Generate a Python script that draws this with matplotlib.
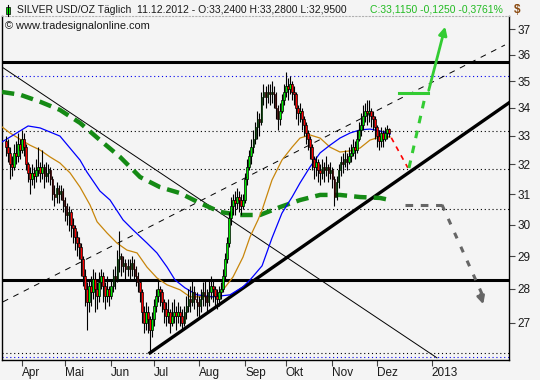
import numpy as np
import pandas as pd
import matplotlib
matplotlib.use("Agg")
import matplotlib.pyplot as plt
from matplotlib.patches import Rectangle
from matplotlib.lines import Line2D

plt.rcParams['font.family'] = ['Liberation Sans', 'DejaVu Sans']

# daily candles 21.03.2012 .. 11.12.2012
first_open = 32.8
closes = [32.6, 32.4, 32.0, 31.9, 32.4, 32.3, 32.7, 32.5, 32.9, 32.6,
          32.0, 31.7, 31.5, 31.7, 31.6, 31.8, 31.9, 31.7, 31.9, 31.6,
          31.7, 31.8, 31.5, 31.0, 30.9, 31.2, 31.0, 31.1, 30.8, 30.6,
          30.3, 30.4, 30.0, 29.9, 29.6, 29.4, 29.3, 28.9, 28.4, 28.0,
          27.6, 28.1, 27.9, 28.3, 28.0, 27.8, 28.2, 28.4, 28.1, 27.8,
          28.0, 27.8, 28.1, 28.4, 28.3, 28.9, 29.0, 28.7, 28.8, 28.6,
          28.7, 28.6, 28.8, 28.6, 28.4, 28.2, 27.9, 27.3, 27.0, 27.3,
          27.1, 26.8, 27.1, 27.5, 27.8, 28.0, 27.9, 27.6, 27.4, 27.2,
          27.3, 27.0, 27.2, 27.3, 27.2, 27.3, 27.2, 27.0, 27.3, 27.5,
          27.7, 27.6, 27.9, 27.7, 27.6, 27.5, 27.7, 27.9, 27.8, 27.6,
          27.9, 28.1, 28.0, 27.8, 27.7, 27.9, 28.0, 28.4, 28.9, 29.4,
          30.2, 30.6, 30.8, 30.7, 30.9, 30.8, 30.6, 30.8, 31.5, 31.9,
          32.3, 32.6, 32.9, 33.3, 33.6, 33.5, 34.4, 34.6, 34.4, 34.6,
          34.5, 34.6, 34.5, 34.0, 33.6, 33.9, 34.3, 34.6, 34.8, 34.7,
          34.9, 34.6, 34.5, 34.0, 33.8, 33.9, 33.6, 33.4, 33.1, 32.9,
          32.6, 32.2, 31.9, 32.1, 31.8, 31.7, 31.9, 31.8, 31.9, 31.7,
          31.8, 31.5, 30.9, 31.4, 31.8, 32.1, 32.0, 32.2, 32.1, 32.3,
          32.4, 32.6, 32.5, 32.9, 33.2, 33.4, 33.7, 33.9, 33.8, 33.9,
          33.7, 33.6, 33.3, 33.0, 32.8, 33.1, 32.9, 33.1, 33.24, 33.115]
highs = [33.0, 32.9, 32.6, 32.3, 32.7, 32.8, 33.1, 32.9, 33.2, 33.1,
         32.7, 32.1, 31.9, 32.0, 31.9, 32.2, 32.6, 32.1, 32.5, 32.0,
         32.1, 32.0, 31.9, 31.6, 31.3, 31.4, 31.3, 31.3, 31.2, 30.9,
         30.7, 30.6, 30.5, 30.2, 30.0, 29.8, 29.6, 29.4, 29.0, 28.6,
         28.2, 28.3, 28.4, 28.6, 28.5, 28.2, 28.5, 28.6, 28.5, 28.2,
         28.4, 28.1, 28.3, 28.6, 28.7, 29.2, 29.8, 29.1, 29.0, 28.9,
         28.9, 28.9, 29.0, 28.9, 28.7, 28.5, 28.3, 28.0, 27.5, 27.6,
         27.5, 27.2, 27.3, 27.7, 28.0, 28.3, 28.1, 28.0, 27.7, 27.6,
         27.7, 27.4, 27.6, 27.7, 27.5, 27.6, 27.5, 27.4, 27.5, 27.8,
         28.0, 28.1, 28.3, 28.1, 27.9, 27.8, 28.0, 28.2, 28.3, 28.0,
         28.3, 28.4, 28.3, 28.1, 28.0, 28.1, 28.2, 28.6, 29.1, 29.6,
         30.4, 30.9, 31.0, 31.1, 31.2, 31.1, 31.0, 31.0, 31.7, 32.2,
         32.5, 32.9, 33.2, 33.5, 33.9, 33.8, 34.6, 34.9, 34.8, 34.9,
         34.9, 35.0, 34.8, 34.6, 34.1, 34.2, 34.5, 34.9, 35.35, 35.1,
         35.2, 35.0, 34.8, 34.6, 34.1, 34.2, 34.0, 33.7, 33.5, 33.2,
         33.0, 32.7, 32.3, 32.3, 32.2, 32.0, 32.2, 32.1, 32.3, 32.0,
         32.1, 31.9, 31.6, 31.6, 32.0, 32.3, 32.4, 32.5, 32.4, 32.6,
         32.7, 32.9, 32.8, 33.2, 33.5, 33.8, 34.1, 34.2, 34.3, 34.3,
         34.0, 33.9, 33.7, 33.4, 33.2, 33.3, 33.2, 33.3, 33.4, 33.28]
lows = [32.3, 32.1, 31.5, 31.6, 31.8, 32.0, 32.1, 32.2, 32.4, 32.3,
        31.8, 31.4, 31.0, 31.3, 31.2, 31.4, 31.6, 31.4, 31.5, 31.2,
        31.4, 31.4, 31.3, 30.8, 30.6, 30.7, 30.7, 30.8, 30.4, 30.1,
        30.0, 29.8, 29.6, 29.4, 29.2, 29.0, 28.9, 28.4, 28.1, 27.5,
        26.8, 27.3, 27.5, 27.7, 27.3, 27.4, 27.6, 28.0, 27.6, 27.4,
        27.6, 27.5, 27.7, 27.9, 28.0, 28.2, 28.5, 28.4, 28.5, 28.3,
        28.4, 28.3, 28.4, 28.3, 28.1, 27.9, 27.6, 27.0, 26.7, 26.8,
        26.7, 26.2, 26.6, 26.9, 27.3, 27.6, 27.5, 27.3, 27.0, 26.9,
        27.0, 26.7, 26.9, 27.0, 26.8, 27.0, 26.9, 26.8, 26.9, 27.1,
        27.3, 27.3, 27.5, 27.4, 27.2, 27.1, 27.3, 27.5, 27.5, 27.3,
        27.5, 27.7, 27.6, 27.5, 27.4, 27.5, 27.7, 27.9, 28.3, 28.8,
        29.3, 30.0, 30.3, 30.3, 30.5, 30.4, 30.3, 30.5, 30.7, 31.3,
        31.8, 32.0, 32.4, 32.7, 32.9, 33.0, 33.4, 34.1, 34.0, 34.2,
        34.1, 34.2, 34.0, 33.6, 33.2, 33.4, 33.8, 34.1, 34.4, 34.3,
        34.5, 34.3, 34.1, 33.6, 33.4, 33.5, 33.2, 33.0, 32.7, 32.5,
        32.2, 31.8, 31.5, 31.6, 31.4, 31.3, 31.5, 31.4, 31.6, 31.4,
        31.5, 31.2, 30.6, 30.8, 31.2, 31.6, 31.7, 31.9, 31.8, 32.0,
        32.1, 32.3, 32.2, 32.4, 32.8, 33.0, 33.2, 33.5, 33.4, 33.5,
        33.3, 33.2, 32.9, 32.6, 32.5, 32.6, 32.6, 32.8, 32.9, 32.95]

# moving averages (day number, price)
ma_blue_day = [-1.9, 11.0, 16.9, 26.7, 36.6, 40.0, 46.4, 51.4, 57.8, 62.7, 69.6, 74.5, 79.5,
               83.4, 88.3, 94.2, 102.1, 110.5, 116.9, 120.4, 126.3, 131.2, 136.1, 141.1,
               145.0, 149.9, 154.9, 159.8, 164.7, 169.7, 174.6, 179.5, 184.4, 189.4]
ma_blue = [32.78, 33.35, 33.28, 32.99, 32.15, 31.74, 31.10, 30.80, 30.15, 29.83, 29.41, 29.10,
           28.66, 28.27, 28.03, 27.82, 27.76, 27.82, 28.06, 28.27, 28.70, 29.57, 30.37, 30.90,
           31.37, 31.91, 32.40, 32.67, 32.92, 33.10, 33.21, 33.24, 33.17, 33.06]
ma_orange_day = [-1.9, 2.1, 7.0, 11.9, 16.9, 21.8, 26.7, 31.7, 36.6, 41.5, 45.0, 49.9, 54.8,
                 59.7, 64.7, 69.6, 74.5, 79.5, 85.9, 90.8, 102.1, 107.1, 112.0, 116.9, 120.4,
                 124.3, 126.3, 131.2, 136.1, 141.1, 145.0, 149.9, 154.9, 159.8, 164.7, 169.7,
                 174.6, 179.5, 184.4, 189.4]
ma_orange = [33.32, 33.10, 32.88, 32.67, 32.50, 32.26, 32.05, 31.71, 31.23, 30.64, 30.09,
             29.73, 29.41, 29.19, 29.10, 28.66, 28.33, 28.12, 27.97, 27.76, 27.76, 27.97,
             28.36, 28.97, 29.61, 30.15, 30.47, 31.47, 32.15, 32.60, 32.92, 33.03, 32.92,
             32.60, 32.43, 32.47, 32.57, 32.85, 32.96, 32.96]
ma200_day = [-1.9, 7.0, 16.9, 26.7, 36.6, 46.4, 56.3, 66.2, 76.0, 85.9, 95.7, 105.6, 115.4,
             125.3, 135.2, 145.0, 154.9, 164.7, 174.6, 184.4, 189.4]
ma200 = [34.59, 34.49, 34.23, 33.93, 33.46, 32.85, 32.26, 31.57, 31.23, 31.03, 30.70, 30.41,
         30.31, 30.31, 30.57, 30.80, 30.97, 30.97, 30.90, 30.87, 30.80]

# drawn levels and trend lines
hlines_thick = [35.73, 28.27]
dotted_black = [33.17, 31.84, 30.50, 26.13]
dotted_blue = [35.20, 26.02]
down_line = ([-1.9, 212.5], [35.53, 26.0])
channel_line = ([-1.4, 246.0], [27.61, 36.38])
support_line = ([71.1, 248.0], [26.14, 34.19])
# scenarios
red_path = ([190.0, 198.2], [32.93, 31.88])
green_path = ([198.7, 206.6], [31.88, 34.41])
green_flat = ([193.8, 208.1], [34.55, 34.55])
green_up = ([208.1, 216.9], [34.55, 37.21])
gray_flat = ([196.8, 215.0], [30.64, 30.64])
gray_down = ([215.0, 235.7], [30.64, 27.46])

yticks = [27, 28, 29, 30, 31, 32, 33, 34, 35, 36, 37]
month_names = {4: 'Apr', 5: 'Mai', 6: 'Jun', 7: 'Jul', 8: 'Aug', 9: 'Sep',
               10: 'Okt', 11: 'Nov', 12: 'Dez'}

dates = pd.bdate_range('2012-03-21', periods=len(closes))
opens = [first_open] + closes[:-1]
idx = np.arange(len(closes))

bg = '#f4f4f4'
fig = plt.figure(figsize=(5.4, 3.8), dpi=100, facecolor=bg)
ax = fig.add_axes([2/540, 20/380, 507/540, 344/380], facecolor=bg)
ax.set_yscale('log')

for lv in dotted_black:
    ax.axhline(lv, color='black', ls=(0, (1, 2.5)), lw=0.8, zorder=1)
for lv in dotted_blue:
    ax.axhline(lv, color='#0000ee', ls=(0, (1, 2.5)), lw=0.8, zorder=1)
for lv in hlines_thick:
    ax.axhline(lv, color='black', lw=2.2, zorder=2)

ax.plot(*down_line, color='black', lw=0.7, zorder=2)
ax.plot(*channel_line, color='black', lw=0.7, ls=(0, (6, 6)), zorder=2)
ax.plot(*support_line, color='black', lw=2.4, zorder=2)

ax.plot(ma200_day, ma200, color='#158a15', lw=3.2, ls=(0, (2.8, 1.6)), zorder=3)
ax.plot(ma_orange_day, ma_orange, color='#c8860b', lw=0.9, zorder=3)
ax.plot(ma_blue_day, ma_blue, color='#0000ff', lw=0.9, zorder=3)

# candles
ax.vlines(idx, lows, highs, color='black', lw=0.8, zorder=4)
for j, (o, c) in enumerate(zip(opens, closes)):
    col = '#00ee00' if c >= o else '#ff0000'
    ax.bar(j, abs(c - o) if abs(c - o) > 0.02 else 0.02, bottom=min(o, c), width=0.8,
           color=col, edgecolor='black', lw=0.5, zorder=5)

# scenario arrows
ax.plot(*red_path, color='#ff0000', lw=1.2, ls=(0, (3, 3)), zorder=6)
ax.plot(*green_path, color='#33cc33', lw=2.2, ls=(0, (2.5, 2.5)), zorder=6)
ax.plot(*green_flat, color='#33cc33', lw=2.2, zorder=6)
ax.annotate('', xy=(green_up[0][1], green_up[1][1]), xytext=(green_up[0][0], green_up[1][0]),
            arrowprops=dict(arrowstyle='-|>', color='#33cc33', lw=2.0, mutation_scale=12),
            zorder=6)
ax.plot(*gray_flat, color='#666666', lw=2.2, ls=(0, (2.5, 2.5)), zorder=6)
ax.plot(gray_down[0][:2], [gray_down[1][0], gray_down[1][1] + 0.25], color='#666666', lw=2.2,
        ls=(0, (2, 3)), zorder=6)
ax.annotate('', xy=(gray_down[0][1], gray_down[1][1]), xytext=(gray_down[0][1] - 2.2, gray_down[1][1] + 0.45),
            arrowprops=dict(arrowstyle='-|>', color='#666666', lw=2.0, mutation_scale=11),
            zorder=6)

ax.set_xlim(-1.86, 248.0)
ax.set_ylim(25.94, 37.53)

# axis ticks
ax.yaxis.tick_right()
ax.set_yticks(yticks)
ax.set_yticklabels([str(t) for t in yticks])
ax.yaxis.set_minor_locator(matplotlib.ticker.NullLocator())
ax.tick_params(axis='y', direction='out', length=4, width=0.8, color='#444444',
               labelsize=8.5, labelcolor='#1a1a1a', pad=2)

tick_pos, tick_lab = [], []
for j, d in enumerate(dates):
    if j > 0 and d.month != dates[j - 1].month:
        tick_pos.append(j)
        tick_lab.append(month_names[d.month])
tick_pos.append(210)
tick_lab.append('2013')
ax.set_xticks(tick_pos)
ax.set_xticklabels(tick_lab)
ax.xaxis.set_minor_locator(matplotlib.ticker.NullLocator())
ax.tick_params(axis='x', direction='out', length=4, width=0.8, color='#444444',
               labelsize=8.5, labelcolor='#1a1a1a', pad=1)
for lab in ax.get_xticklabels():
    lab.set_horizontalalignment('left')

for s in ['left', 'right', 'bottom']:
    ax.spines[s].set_color('black')
    ax.spines[s].set_linewidth(1.0)
ax.spines['top'].set_color('#b0b0b0')
ax.spines['top'].set_linestyle((0, (1, 2)))
ax.spines['top'].set_linewidth(0.8)

# header
fig.add_artist(Line2D([7.5/540, 7.5/540], [1-5/380, 1-16/380], color='black', lw=0.8))
fig.add_artist(Rectangle((5.5/540, 1-13.5/380), 4/540, 6/380, facecolor='#00ee00',
                         edgecolor='black', lw=0.5))
fig.text(17/540, 1-10/380, 'SILVER USD/OZ Täglich  11.12.2012 - O:33,2400 H:33,2800 L:32,9500',
         fontsize=7.5, color='#1a1a1a', va='center', ha='left')
fig.text(503/540, 1-10/380, 'C:33,1150 -0,1250 -0,3761%', fontsize=7.5, color='#22bb22',
         va='center', ha='right')
fig.text(5/540, 1-26/380, '© www.tradesignalonline.com', fontsize=7.9, color='#1a1a1a',
         va='center', ha='left')
fig.text(514/540, 1-10/380, '$', fontsize=8.5, color='#8a4a10', va='center', ha='left',
         fontweight='bold')

fig.savefig('out.png', dpi=100, facecolor=bg)
